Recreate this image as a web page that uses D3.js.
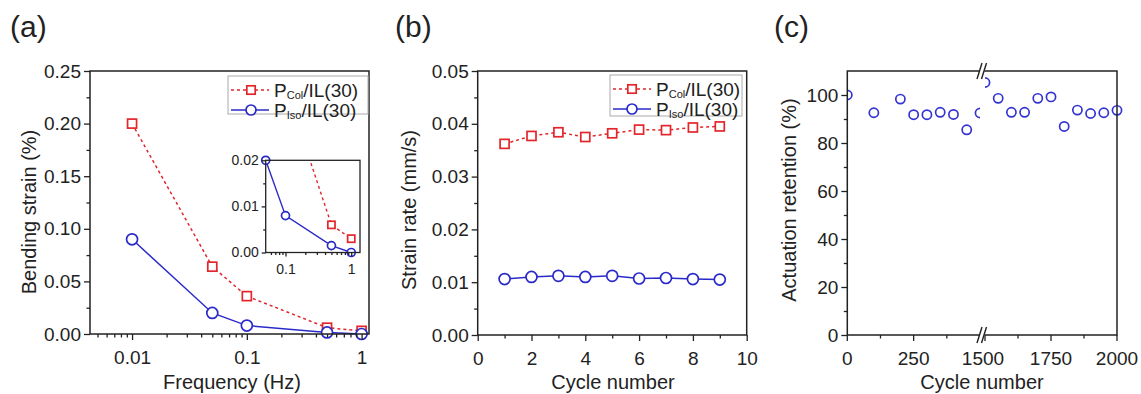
<!DOCTYPE html>
<html>
<head>
<meta charset="utf-8">
<script src="https://cdn.jsdelivr.net/npm/d3@7"></script>
<style>
  body { margin: 0; background: #fff; }
  text { font-family: "Liberation Sans", Arial, sans-serif; fill: #222; }
</style>
</head>
<body>
<script>
// (a) bending strain vs frequency
var freq = [0.01, 0.05, 0.1, 0.5, 1];
var strainCol = [0.200, 0.064, 0.036, 0.006, 0.003];
var strainIso = [0.090, 0.020, 0.008, 0.0015, 0.0];

// (b) strain rate vs cycle
var cyclesB = [1, 2, 3, 4, 5, 6, 7, 8, 9];
var rateCol = [0.0362, 0.0377, 0.0384, 0.0375, 0.0382, 0.0389, 0.0388, 0.0393, 0.0395];
var rateIso = [0.0106, 0.0110, 0.0112, 0.0110, 0.0112, 0.0107, 0.0108, 0.0106, 0.0105];

// (c) actuation retention vs cycle (broken axis)
var cyclesC = [0, 100, 200, 250, 300, 350, 400, 450, 500,
  1500, 1550, 1600, 1650, 1700, 1750, 1800, 1850, 1900, 1950, 2000];
var retention = [100, 92.6, 98.3, 91.8, 91.8, 92.8, 91.9, 85.5, 92.5,
  105.2, 98.6, 92.8, 92.8, 98.6, 99.2, 86.9, 93.7, 92.3, 92.6, 93.6];

var ticksA = [0, 0.05, 0.10, 0.15, 0.20, 0.25];
var ticksB = [0, 0.01, 0.02, 0.03, 0.04, 0.05];
var ticksBx = [0, 2, 4, 6, 8, 10];
var ticksC = [0, 20, 40, 60, 80, 100];
var ticksCx = [0, 250, 1500, 1750, 2000];

var RED = "#e2262b";
var BLUE = "#2a2ac9";
var INK = "#222";
var TICK = 19, TITLE = 20;

var svg = d3.select("body").append("svg")
  .attr("width", 1141)
  .attr("height", 394);

var defs = svg.append("defs");

function frame(g, x0, y0, x1, y1, w) {
  g.append("rect")
    .attr("x", x0).attr("y", y0)
    .attr("width", x1 - x0).attr("height", y1 - y0)
    .attr("fill", "none").attr("stroke", INK).attr("stroke-width", w || 1.5);
}

function styleAxis(a, size) {
  a.select(".domain").remove();
  a.selectAll("line").attr("stroke", INK).attr("stroke-width", 1.3);
  a.selectAll("text").style("font-size", size + "px").attr("fill", INK);
}

function yAxis(scale, xPos, major, minor, fmt, size, len) {
  var a = svg.append("g").attr("transform", "translate(" + xPos + ",0)")
    .call(d3.axisLeft(scale).tickValues(major).tickFormat(fmt).tickSize(len || 6).tickPadding(3));
  styleAxis(a, size);
  var m = svg.append("g").attr("transform", "translate(" + xPos + ",0)")
    .call(d3.axisLeft(scale).tickValues(minor).tickFormat("").tickSize(3.5));
  styleAxis(m, size);
}

function xAxis(scale, yPos, major, minor, fmt, size, len, pad) {
  var a = svg.append("g").attr("transform", "translate(0," + yPos + ")")
    .call(d3.axisBottom(scale).tickValues(major).tickFormat(fmt).tickSize(len || 6).tickPadding(pad || 11));
  styleAxis(a, size);
  var m = svg.append("g").attr("transform", "translate(0," + yPos + ")")
    .call(d3.axisBottom(scale).tickValues(minor).tickFormat("").tickSize(3.5));
  styleAxis(m, size);
}

function series(g, xs, ys, x, y, color, dashed, marker, r) {
  var pts = xs.map(function(d, i) { return [x(d), y(ys[i])]; });
  g.append("path")
    .attr("d", d3.line()(pts))
    .attr("fill", "none")
    .attr("stroke", color)
    .attr("stroke-width", 1.5)
    .attr("stroke-dasharray", dashed ? "3,3" : null);
  drawMarkers(g, pts, color, marker, r);
}

function drawMarkers(g, pts, color, marker, r) {
  if (marker === "square") {
    g.selectAll(null).data(pts).enter().append("rect")
      .attr("x", function(d) { return d[0] - r; })
      .attr("y", function(d) { return d[1] - r; })
      .attr("width", 2 * r).attr("height", 2 * r)
      .attr("fill", "#fff").attr("stroke", color).attr("stroke-width", 1.7);
  } else {
    g.selectAll(null).data(pts).enter().append("circle")
      .attr("cx", function(d) { return d[0]; })
      .attr("cy", function(d) { return d[1]; })
      .attr("r", r)
      .attr("fill", "#fff").attr("stroke", color).attr("stroke-width", 1.7);
  }
}

function legend(x0, y0, w, h, symX, textX) {
  svg.append("rect")
    .attr("x", x0).attr("y", y0).attr("width", w).attr("height", h)
    .attr("fill", "#fff").attr("stroke", "#aaa").attr("stroke-width", 1);
  var rows = [
    {sub: "Col", color: RED, dashed: true, marker: "square", r: 4.2, y: y0 + 14},
    {sub: "Iso", color: BLUE, dashed: false, marker: "circle", r: 5, y: y0 + 34}
  ];
  rows.forEach(function(d) {
    svg.append("line")
      .attr("x1", x0 + 3).attr("x2", textX - 5)
      .attr("y1", d.y).attr("y2", d.y)
      .attr("stroke", d.color).attr("stroke-width", 1.5)
      .attr("stroke-dasharray", d.dashed ? "3,3" : null);
    drawMarkers(svg, [[symX, d.y]], d.color, d.marker, d.r);
    var t = svg.append("text")
      .attr("x", textX).attr("y", d.y + 7)
      .style("font-size", "19px");
    t.append("tspan").text("P");
    t.append("tspan").attr("dy", 1.5).style("font-size", "11px").text(d.sub);
    t.append("tspan").attr("dy", -1.5).text("/IL(30)");
  });
}

function label(x, y, txt, size, anchor, rotate) {
  var t = svg.append("text")
    .attr("text-anchor", anchor || "middle")
    .style("font-size", size + "px")
    .text(txt);
  if (rotate) {
    t.attr("transform", "translate(" + x + "," + y + ") rotate(-90)");
  } else {
    t.attr("x", x).attr("y", y);
  }
  return t;
}

// ---------- panel (a) ----------
var xa = d3.scaleLog().domain([0.0043, 1.16]).range([90, 369]);
var ya = d3.scaleLinear().domain([0, 0.25]).range([334, 71]);
var minorLog = [];
[0.001, 0.01, 0.1].forEach(function(b) {
  for (var k = 2; k <= 9; k++) {
    var v = b * k;
    if (v > 0.0043 && v < 1.16) minorLog.push(v);
  }
});

var ga = svg.append("g");
series(ga, freq, strainCol, xa, ya, RED, true, "square", 4.5);
series(ga, freq, strainIso, xa, ya, BLUE, false, "circle", 5.5);
frame(svg, 90, 71, 369, 334);
yAxis(ya, 90, ticksA, d3.range(0.025, 0.25, 0.05), d3.format(".2f"), TICK);
xAxis(xa, 334, [0.01, 0.1, 1], minorLog, function(d) { return d === 1 ? "1" : String(d); }, TICK);
label(232, 389, "Frequency (Hz)", TITLE);
label(36, 212, "Bending strain (%)", TITLE, "middle", true);
label(10, 37, "(a)", 30, "start");
legend(228, 76, 140, 38, 251, 274);

// inset
var xi = d3.scaleLog().domain([0.05, 1.36]).range([265.7, 360]);
var yi = d3.scaleLinear().domain([0, 0.02]).range([252.5, 160.3]);
defs.append("clipPath").attr("id", "clipInset").append("rect")
  .attr("x", 265.7).attr("y", 160.3).attr("width", 94.3).attr("height", 92.2);
var gi = svg.append("g");
gi.append("rect").attr("x", 265.7).attr("y", 160.3).attr("width", 94.3).attr("height", 92.2)
  .attr("fill", "#fff");
var gic = gi.append("g").attr("clip-path", "url(#clipInset)");
var colPts = freq.map(function(d, i) { return [xi(d), yi(strainCol[i])]; });
gic.append("path").attr("d", d3.line()(colPts)).attr("fill", "none")
  .attr("stroke", RED).attr("stroke-width", 1.4).attr("stroke-dasharray", "3,3");
var isoPts = freq.map(function(d, i) { return [xi(d), yi(strainIso[i])]; });
gi.append("path").attr("d", d3.line()(isoPts.slice(1))).attr("fill", "none")
  .attr("stroke", BLUE).attr("stroke-width", 1.4);
drawMarkers(gi, colPts.slice(3), RED, "square", 3.6);
drawMarkers(gi, isoPts.slice(1), BLUE, "circle", 4);
frame(svg, 265.7, 160.3, 360, 252.5, 1.3);
var iy = svg.append("g").attr("transform", "translate(265.7,0)")
  .call(d3.axisLeft(yi).tickValues([0, 0.01, 0.02]).tickFormat(d3.format(".2f")).tickSize(4).tickPadding(3));
styleAxis(iy, 14);
var iy2 = svg.append("g").attr("transform", "translate(265.7,0)")
  .call(d3.axisLeft(yi).tickValues([0.005, 0.015]).tickFormat("").tickSize(2.5));
styleAxis(iy2, 14);
var ix = svg.append("g").attr("transform", "translate(0,252.5)")
  .call(d3.axisBottom(xi).tickValues([0.1, 1]).tickFormat(function(d) { return d === 1 ? "1" : "0.1"; }).tickSize(4).tickPadding(8));
styleAxis(ix, 14);
var ix2 = svg.append("g").attr("transform", "translate(0,252.5)")
  .call(d3.axisBottom(xi).tickValues([0.06, 0.07, 0.08, 0.09, 0.2, 0.3, 0.4, 0.5, 0.6, 0.7, 0.8, 0.9]).tickFormat("").tickSize(2.5));
styleAxis(ix2, 14);

// ---------- panel (b) ----------
var xb = d3.scaleLinear().domain([0, 10]).range([477.7, 746.7]);
var yb = d3.scaleLinear().domain([0, 0.05]).range([335, 71]);
var gb = svg.append("g");
series(gb, cyclesB, rateCol, xb, yb, RED, true, "square", 4.5);
series(gb, cyclesB, rateIso, xb, yb, BLUE, false, "circle", 5.5);
frame(svg, 477.7, 71, 746.7, 335);
yAxis(yb, 477.7, ticksB, d3.range(0.005, 0.05, 0.01), d3.format(".2f"), TICK);
xAxis(xb, 335, ticksBx, [1, 3, 5, 7, 9], d3.format("d"), TICK);
label(613, 389, "Cycle number", TITLE);
label(416, 210, "Strain rate (mm/s)", TITLE, "middle", true);
label(395, 37, "(b)", 30, "start");
legend(610, 75, 132, 41, 632, 656);

// ---------- panel (c) ----------
var xcL = d3.scaleLinear().domain([0, 500]).range([847.3, 980]);
var xcR = d3.scaleLinear().domain([1500, 2000]).range([985, 1117]);
var yc = d3.scaleLinear().domain([0, 110]).range([335, 71]);
function xc(d) { return d <= 1000 ? xcL(d) : xcR(d); }

defs.append("clipPath").attr("id", "clipL").append("rect")
  .attr("x", 847.3).attr("y", 60).attr("width", 980 - 847.3).attr("height", 290);
defs.append("clipPath").attr("id", "clipR").append("rect")
  .attr("x", 985).attr("y", 60).attr("width", 1117 - 985 + 10).attr("height", 290);

var gc = svg.append("g");
[["clipL", function(d) { return d <= 1000; }], ["clipR", function(d) { return d > 1000; }]].forEach(function(p) {
  var idx = d3.range(cyclesC.length).filter(function(i) { return p[1](cyclesC[i]); });
  gc.append("g").attr("clip-path", "url(#" + p[0] + ")")
    .selectAll("circle").data(idx).enter().append("circle")
    .attr("cx", function(i) { return xc(cyclesC[i]); })
    .attr("cy", function(i) { return yc(retention[i]); })
    .attr("r", 4.6)
    .attr("fill", "none").attr("stroke", "#3434d2").attr("stroke-width", 1.7);
});

frame(svg, 847.3, 71, 1117, 335);
yAxis(yc, 847.3, ticksC, [10, 30, 50, 70, 90], d3.format("d"), TICK);
var cxMajor = svg.append("g").attr("transform", "translate(0,335)");
var cxMinor = svg.append("g").attr("transform", "translate(0,335)");
ticksCx.forEach(function(v) {
  var px = xc(v);
  cxMajor.append("line").attr("x1", px).attr("x2", px).attr("y1", 0).attr("y2", 6)
    .attr("stroke", INK).attr("stroke-width", 1.3);
  cxMajor.append("text").attr("x", v === 1500 ? px - 2 : px).attr("y", 17).attr("dy", "0.71em")
    .attr("text-anchor", "middle").style("font-size", TICK + "px").text(v);
});
[125, 375, 1625, 1875].forEach(function(v) {
  var px = xc(v);
  cxMinor.append("line").attr("x1", px).attr("x2", px).attr("y1", 0).attr("y2", 3.5)
    .attr("stroke", INK).attr("stroke-width", 1.3);
});
// break marks
[71, 335].forEach(function(yy) {
  svg.append("polygon")
    .attr("points", [[977, yy + 8], [982, yy - 8], [987, yy - 8], [982, yy + 8]].join(" "))
    .attr("fill", "#fff");
  [[977, 982], [981.5, 986.5]].forEach(function(s) {
    svg.append("line")
      .attr("x1", s[0]).attr("y1", yy + 8).attr("x2", s[1]).attr("y2", yy - 8)
      .attr("stroke", INK).attr("stroke-width", 1.4);
  });
});
label(982, 389, "Cycle number", TITLE);
label(796, 200, "Actuation retention (%)", TITLE, "middle", true);
label(774, 37, "(c)", 30, "start");
</script>
</body>
</html>
